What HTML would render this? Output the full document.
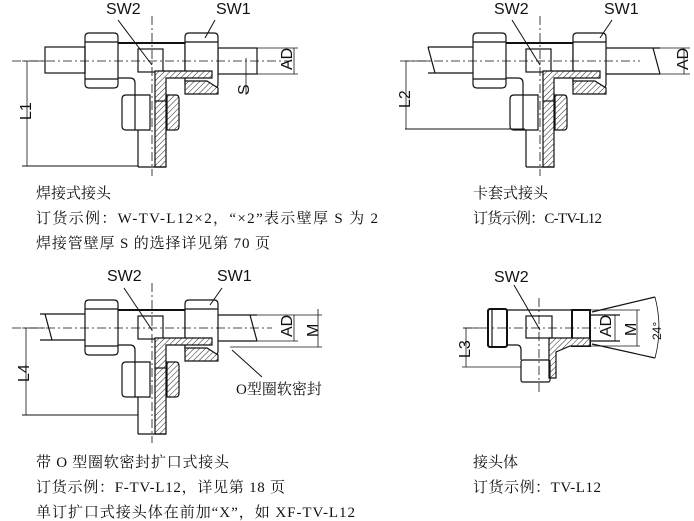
<!DOCTYPE html>
<html><head><meta charset="utf-8"><style>
html,body{margin:0;padding:0;background:#fff;}
svg{display:block;}
.t{font-family:"Liberation Serif","Noto Serif CJK SC",serif;font-size:15px;fill:#111;}
.l{font-family:"Liberation Sans","Noto Sans CJK SC",sans-serif;font-size:16px;fill:#111;}
</style></head><body>
<svg width="694" height="521" viewBox="0 0 694 521" xmlns="http://www.w3.org/2000/svg">
<defs>
<pattern id="h" width="4" height="4" patternUnits="userSpaceOnUse" patternTransform="rotate(45)">
<rect width="4" height="4" fill="#fff"/><line x1="0" y1="0" x2="0" y2="4" stroke="#222" stroke-width="1"/></pattern>
<g id="tee" fill="none" stroke="#111" stroke-width="1.2">
  <path d="M-67,-24 Q-67,-28 -63,-28 L-38,-28 Q-34,-28 -34,-24 L-34,23 Q-34,27 -38,27 L-63,27 Q-67,27 -67,23 Z"/>
  <line x1="-67" y1="-19" x2="-34" y2="-19"/><line x1="-67" y1="18" x2="-34" y2="18"/>
  <line x1="-34" y1="-18" x2="33" y2="-18" stroke-width="2"/>
  <path d="M-34,17 L-22,17 Q-17,17 -17,22 L-17,34"/>
  <path d="M33,-18 L33,20"/>
  <path d="M33,-24 Q33,-28 37,-28 L62,-28 Q66,-28 66,-24 L66,23 Q66,27 62,27 L37,27 Q33,27 33,23 Z" fill="#fff"/>
  <line x1="33" y1="-19" x2="66" y2="-19"/>
  <rect x="-14" y="-12" width="25" height="23"/>
  <path d="M3,10 L60,10 L60,17 L14,17 L14,106 L3,106 Z" fill="url(#h)"/>
  <path d="M33,20 L55,20 L66,27 L66,33 L33,33 Z" fill="url(#h)"/>
  <path d="M-30,38 Q-30,34 -26,34 L-2,34 L-2,69 L-26,69 Q-30,69 -30,65 Z"/>
  <line x1="-17" y1="34" x2="-17" y2="69"/>
  <path d="M15,34 L24,34 Q27,34 27,38 L27,65 Q27,69 24,69 L15,69 Z" fill="url(#h)"/>
  <line x1="-14" y1="69" x2="-14" y2="106"/>
  <line x1="-14" y1="106" x2="14" y2="106"/>
  <line x1="3" y1="40" x2="14" y2="40"/>
  <line x1="0" y1="-45" x2="0" y2="115" stroke-width="0.8" stroke-dasharray="9,3,2,3"/>
</g>
</defs>

<g transform="translate(152,61)">
  <rect x="-107" y="-14" width="40" height="26" fill="none" stroke="#111" stroke-width="1.2"/>
  <rect x="66" y="-13" width="39" height="26" fill="none" stroke="#111" stroke-width="1.2"/>
  <use href="#tee"/>
  <line x1="-140" y1="0" x2="140" y2="0" stroke="#111" stroke-width="0.8" stroke-dasharray="9,3,2,3"/>
</g>
<line x1="22" y1="61" x2="45" y2="61" stroke="#111" stroke-width="0.8"/>
<line x1="22" y1="166" x2="138" y2="166" stroke="#111" stroke-width="1"/>
<line x1="27" y1="61" x2="27" y2="166" stroke="#111" stroke-width="0.8"/>
<line x1="257" y1="48" x2="298" y2="48" stroke="#111" stroke-width="0.8"/>
<line x1="257" y1="74" x2="298" y2="74" stroke="#111" stroke-width="0.8"/>
<line x1="294" y1="48" x2="294" y2="74" stroke="#111" stroke-width="0.8"/>
<line x1="246" y1="58" x2="246" y2="95" stroke="#111" stroke-width="0.8"/>
<line x1="118" y1="20" x2="152" y2="65" stroke="#111" stroke-width="1"/>
<line x1="215" y1="20" x2="205" y2="38" stroke="#111" stroke-width="1"/>
<text class="l" x="106" y="14">SW2</text>
<text class="l" x="216" y="14">SW1</text>
<text class="l" transform="translate(292,70) rotate(-90)">AD</text>
<text class="l" transform="translate(249,95) rotate(-90)">S</text>
<text class="l" transform="translate(31,120) rotate(-90)">L1</text>

<g transform="translate(540,61)">
  <path d="M-112,-14 L-67,-14 M-112,12 L-67,12 M-112,-14 L-105,12" fill="none" stroke="#111" stroke-width="1.2"/>
  <path d="M66,-13 L120,-13 M66,13 L120,13 M113,-13 L120,13" fill="none" stroke="#111" stroke-width="1.2"/>
  <use href="#tee"/>
  <line x1="-140" y1="0" x2="100" y2="0" stroke="#111" stroke-width="0.8" stroke-dasharray="9,3,2,3"/>
</g>
<line x1="405" y1="61" x2="430" y2="61" stroke="#111" stroke-width="0.8"/>
<line x1="405" y1="129" x2="525" y2="129" stroke="#111" stroke-width="1"/>
<line x1="406" y1="61" x2="406" y2="129" stroke="#111" stroke-width="0.8"/>
<line x1="660" y1="48" x2="690" y2="48" stroke="#111" stroke-width="0.8"/>
<line x1="660" y1="74" x2="690" y2="74" stroke="#111" stroke-width="0.8"/>
<line x1="684" y1="48" x2="684" y2="74" stroke="#111" stroke-width="0.8"/>
<line x1="512" y1="20" x2="540" y2="65" stroke="#111" stroke-width="1"/>
<line x1="612" y1="20" x2="600" y2="38" stroke="#111" stroke-width="1"/>
<text class="l" x="494" y="14">SW2</text>
<text class="l" x="604" y="14">SW1</text>
<text class="l" transform="translate(688,70) rotate(-90)">AD</text>
<text class="l" transform="translate(410,108) rotate(-90)">L2</text>

<g transform="translate(152,328)">
  <path d="M-112,-14 L-67,-14 M-112,12 L-67,12 M-107,-14 L-100,12" fill="none" stroke="#111" stroke-width="1.2"/>
  <path d="M66,-13 L105,-13 M66,13 L105,13 M98,-13 L105,13" fill="none" stroke="#111" stroke-width="1.2"/>
  <use href="#tee"/>
  <line x1="-140" y1="0" x2="120" y2="0" stroke="#111" stroke-width="0.8" stroke-dasharray="9,3,2,3"/>
</g>
<line x1="22" y1="328" x2="45" y2="328" stroke="#111" stroke-width="0.8"/>
<line x1="22" y1="415" x2="138" y2="415" stroke="#111" stroke-width="1"/>
<line x1="26" y1="328" x2="26" y2="415" stroke="#111" stroke-width="0.8"/>
<line x1="257" y1="315" x2="322" y2="315" stroke="#111" stroke-width="0.8"/>
<line x1="257" y1="341" x2="298" y2="341" stroke="#111" stroke-width="0.8"/>
<line x1="230" y1="347" x2="322" y2="347" stroke="#111" stroke-width="0.8"/>
<line x1="294" y1="315" x2="294" y2="341" stroke="#111" stroke-width="0.8"/>
<line x1="318" y1="309" x2="318" y2="347" stroke="#111" stroke-width="0.8"/>
<line x1="124" y1="288" x2="152" y2="330" stroke="#111" stroke-width="1"/>
<line x1="222" y1="288" x2="210" y2="305" stroke="#111" stroke-width="1"/>
<line x1="232" y1="350" x2="262" y2="377" stroke="#111" stroke-width="1"/>
<text class="l" x="107" y="281">SW2</text>
<text class="l" x="217" y="281">SW1</text>
<text class="l" transform="translate(292,337) rotate(-90)">AD</text>
<text class="l" transform="translate(318,337) rotate(-90)">M</text>
<text class="l" transform="translate(29,382) rotate(-90)">L4</text>
<text class="t" x="236" y="394" style="font-size:15px">O型圈软密封</text>

<g fill="none" stroke="#111" stroke-width="1.2">
  <rect x="488" y="309" width="19" height="38" rx="2" stroke-width="2"/>
  <line x1="492" y1="309" x2="492" y2="347"/>
  <line x1="507" y1="310" x2="572" y2="310"/>
  <path d="M507,345 L517,345 Q521,345 521,350 L521,360"/>
  <rect x="572" y="310" width="18" height="36" stroke-width="2"/>
  <rect x="526" y="316" width="26" height="22"/>
  <path d="M552,338 L590,338 L590,346 L570,346 L556,352 L556,378 L549,378 L549,338 Z" fill="url(#h)"/>
  <rect x="521" y="360" width="29" height="22" rx="2"/>
  <line x1="539" y1="298" x2="539" y2="392" stroke-width="0.8" stroke-dasharray="9,3,2,3"/>
  <line x1="463" y1="328" x2="600" y2="328" stroke-width="0.8" stroke-dasharray="9,3,2,3"/>
  <path d="M590,315 L620,315 M590,341 L620,341 M592,312 L655,297 M592,344 L655,358"/>
  <line x1="615" y1="315" x2="615" y2="341" stroke-width="0.8"/>
  <line x1="637" y1="310" x2="637" y2="346" stroke-width="0.8"/>
  <line x1="590" y1="310" x2="640" y2="310" stroke-width="0.8"/>
  <line x1="590" y1="346" x2="640" y2="346" stroke-width="0.8"/>
  <path d="M655,297 Q663,328 655,358" stroke-width="0.8"/>
  <line x1="463" y1="328" x2="480" y2="328" stroke-width="0.8"/>
  <line x1="466" y1="328" x2="466" y2="367" stroke-width="0.8"/>
  <line x1="462" y1="367" x2="521" y2="367" stroke-width="0.8"/>
  <line x1="514" y1="285" x2="540" y2="330" stroke-width="1"/>
</g>
<text class="l" x="494" y="282">SW2</text>
<text class="l" transform="translate(611,337) rotate(-90)">AD</text>
<text class="l" transform="translate(636,336) rotate(-90)">M</text>
<text class="l" transform="translate(661,340) rotate(-90)" style="font-size:12px">24°</text>
<text class="l" transform="translate(470,358) rotate(-90)">L3</text>

<text class="t" x="36" y="198">焊接式接头</text>
<text class="t" x="36" y="223" textLength="342" lengthAdjust="spacing">订货示例：W-TV-L12×2，“×2”表示壁厚 S 为 2</text>
<text class="t" x="36" y="248" textLength="234" lengthAdjust="spacing">焊接管壁厚 S 的选择详见第 70 页</text>
<text class="t" x="473" y="198">卡套式接头</text>
<text class="t" x="473" y="223" textLength="129" lengthAdjust="spacing">订货示例：C-TV-L12</text>
<text class="t" x="36" y="467" textLength="193" lengthAdjust="spacing">带 O 型圈软密封扩口式接头</text>
<text class="t" x="36" y="492" textLength="249" lengthAdjust="spacing">订货示例：F-TV-L12，详见第 18 页</text>
<text class="t" x="36" y="517" textLength="319" lengthAdjust="spacing">单订扩口式接头体在前加“X”，如 XF-TV-L12</text>
<text class="t" x="473" y="467">接头体</text>
<text class="t" x="473" y="492" textLength="128" lengthAdjust="spacing">订货示例：TV-L12</text>
</svg>
</body></html>
